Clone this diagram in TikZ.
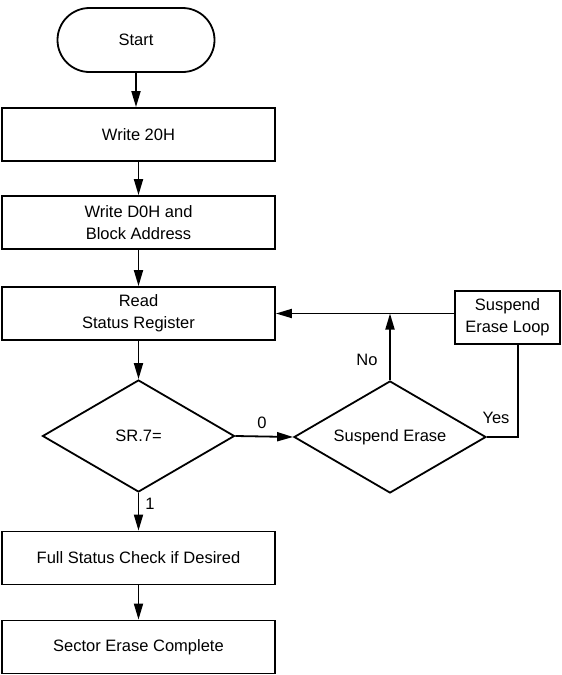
\documentclass[tikz,border=0pt]{standalone}
\usepackage{fontspec}
\setmainfont{Liberation Sans}
\usetikzlibrary{shapes.geometric,arrows.meta}
\begin{document}
\begin{tikzpicture}[x=1pt,y=-1pt,
  font=\fontsize{16.5}{22}\selectfont,
  line width=1.8pt,
  box/.style={draw, rectangle, minimum width=273pt, minimum height=53pt, inner sep=0pt, align=center},
  dec/.style={draw, diamond, aspect=1.714, minimum width=192pt, minimum height=112pt, inner sep=0pt},
  term/.style={draw, rectangle, rounded corners=32pt, minimum width=157pt, minimum height=64pt},
  arr/.style={-{Triangle[length=16pt,width=9pt]}},
  lbl/.style={inner sep=0pt}
]
\useasboundingbox (0,0) rectangle (562,675);
\node[term] (start) at (136,40) {Start};
\node[box] (w20) at (138.5,134.5) {Write 20H};
\node[box] (wd0) at (138.5,222.5) {Write D0H and\\Block Address};
\node[box] (read) at (138.5,313.5) {Read\\Status Register};
\node[dec] (sr) at (138.5,436) {SR.7=};
\node[dec] (se) at (390,437) {Suspend Erase};
\node[box, minimum width=105pt] (loop) at (507.5,317.5) {Suspend\\Erase Loop};
\node[box] (full) at (138.5,558) {Full Status Check if Desired};
\node[box] (sector) at (138.5,647) {Sector Erase Complete};
\coordinate (yc) at (518,437);

\draw[arr] (start.south) -- (start.south |- w20.north);
\draw[arr] (w20) -- (wd0);
\draw[arr] (wd0) -- (read);
\draw[arr] (read) -- (sr);
\draw[arr] (sr) -- (full);
\draw[arr] (full) -- (sector);
\draw[arr] (sr.east) -- (se.west);
\draw[arr] (se.north) -- (se.north |- read.east);
\draw[arr] (loop.west |- read.east) -- (read.east);
\draw (se.east) -- (yc) -- (yc |- loop.south);

\node[lbl] (l0) at (262,423) {0};
\node[lbl] (l1) at (150,504) {1};
\node[lbl] (lno) at (367,360) {No};
\node[lbl] (lyes) at (496,418) {Yes};
\end{tikzpicture}
\end{document}
